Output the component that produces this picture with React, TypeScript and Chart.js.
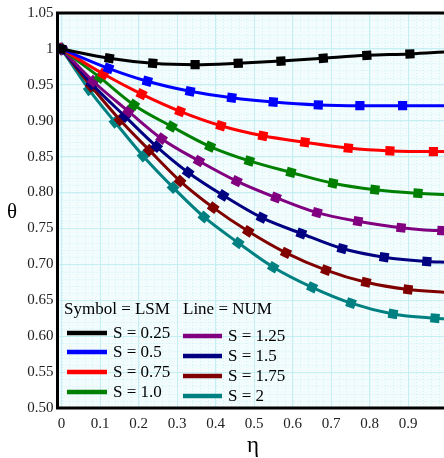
import React, { useEffect, useRef } from "react";
import { Chart, registerables } from "chart.js";
Chart.register(...registerables);

const seriesLabels = ["S = 0.25", "S = 0.5", "S = 0.75", "S = 1.0", "S = 1.25", "S = 1.5", "S = 1.75", "S = 2"];
const seriesColors = ["#000000", "#0000ff", "#ff0000", "#008000", "#800080", "#000080", "#800000", "#008080"];

const etaS025 = [0, 0.124, 0.237, 0.347, 0.459, 0.57, 0.68, 0.793, 0.905, 1.0];
const thetaS025 = [1, 0.987, 0.98, 0.978, 0.98, 0.983, 0.987, 0.991, 0.993, 0.996];
const etaS05 = [0, 0.122, 0.223, 0.334, 0.442, 0.55, 0.667, 0.775, 0.886, 1.0];
const thetaS05 = [1, 0.973, 0.955, 0.941, 0.932, 0.926, 0.922, 0.921, 0.921, 0.921];
const etaS075 = [0, 0.109, 0.208, 0.308, 0.414, 0.523, 0.632, 0.745, 0.853, 0.966, 1.0];
const thetaS075 = [1, 0.965, 0.937, 0.913, 0.893, 0.879, 0.87, 0.862, 0.858, 0.857, 0.857];
const etaS10 = [0, 0.1, 0.188, 0.286, 0.386, 0.488, 0.596, 0.705, 0.814, 0.926, 1.0];
const thetaS10 = [1, 0.96, 0.922, 0.892, 0.864, 0.844, 0.828, 0.813, 0.804, 0.799, 0.797];
const etaS125 = [0, 0.082, 0.174, 0.26, 0.357, 0.455, 0.557, 0.664, 0.77, 0.882, 0.988, 1.0];
const thetaS125 = [1, 0.955, 0.913, 0.875, 0.844, 0.816, 0.793, 0.772, 0.76, 0.751, 0.747, 0.747];
const etaS15 = [0, 0.079, 0.165, 0.247, 0.329, 0.42, 0.52, 0.623, 0.729, 0.838, 0.949, 1.0];
const thetaS15 = [1, 0.951, 0.906, 0.864, 0.828, 0.796, 0.765, 0.743, 0.722, 0.71, 0.704, 0.703];
const etaS175 = [0, 0.077, 0.152, 0.228, 0.308, 0.394, 0.485, 0.583, 0.687, 0.791, 0.9, 1.0];
const thetaS175 = [1, 0.948, 0.901, 0.859, 0.816, 0.779, 0.746, 0.716, 0.692, 0.675, 0.665, 0.661];
const etaS20 = [0, 0.072, 0.139, 0.212, 0.29, 0.37, 0.459, 0.55, 0.651, 0.752, 0.861, 0.97, 1.0];
const thetaS20 = [1, 0.943, 0.898, 0.851, 0.807, 0.766, 0.73, 0.696, 0.668, 0.646, 0.631, 0.625, 0.624];

const seriesEta = [etaS025, etaS05, etaS075, etaS10, etaS125, etaS15, etaS175, etaS20];
const seriesTheta = [thetaS025, thetaS05, thetaS075, thetaS10, thetaS125, thetaS15, thetaS175, thetaS20];

const xTickValues = [0, 0.1, 0.2, 0.3, 0.4, 0.5, 0.6, 0.7, 0.8, 0.9];
const xTickLabels = ["0", "0.1", "0.2", "0.3", "0.4", "0.5", "0.6", "0.7", "0.8", "0.9"];
const yTickValues = [0.5, 0.55, 0.6, 0.65, 0.7, 0.75, 0.8, 0.85, 0.9, 0.95, 1.0, 1.05];
const yTickLabels = ["0.50", "0.55", "0.60", "0.65", "0.70", "0.75", "0.80", "0.85", "0.90", "0.95", "1", "1.05"];

const legendTitleLeft = "Symbol = LSM";
const legendTitleRight = "Line = NUM";
const xTitle = "η";
const yTitle = "θ";

const SERIF = '"Liberation Serif", "Times New Roman", serif';

const decorPlugin = {
  id: "decor",
  beforeDraw(chart: any) {
    const { ctx, chartArea: a, scales } = chart;
    ctx.save();
    ctx.fillStyle = "#f2fcfd";
    ctx.fillRect(a.left, a.top, a.right - a.left, a.bottom - a.top);
    ctx.strokeStyle = "rgba(170,230,236,0.45)";
    ctx.lineWidth = 1;
    ctx.setLineDash([1, 2]);
    for (let k = 0; k <= 50; k++) {
      const v = k * 0.02;
      const px = Math.round(scales.x.getPixelForValue(v)) + 0.5;
      ctx.beginPath();
      ctx.moveTo(px, a.top);
      ctx.lineTo(px, a.bottom);
      ctx.stroke();
    }
    for (let k = 0; k <= 55; k++) {
      const v = 0.5 + k * 0.01;
      const py = Math.round(scales.y.getPixelForValue(v)) + 0.5;
      ctx.beginPath();
      ctx.moveTo(a.left, py);
      ctx.lineTo(a.right, py);
      ctx.stroke();
    }
    ctx.restore();
  },
  afterDraw(chart: any) {
    const { ctx, chartArea: a } = chart;
    ctx.save();
    // frame
    ctx.strokeStyle = "#000";
    ctx.lineWidth = 3;
    ctx.beginPath();
    ctx.moveTo(a.right + 2, a.top);
    ctx.lineTo(a.left, a.top);
    ctx.lineTo(a.left, a.bottom);
    ctx.lineTo(a.right + 2, a.bottom);
    ctx.stroke();

    // legend
    const L = a.left;
    const B = a.bottom;
    ctx.font = `17px ${SERIF}`;
    ctx.fillStyle = "#000";
    ctx.textBaseline = "middle";
    ctx.textAlign = "left";
    ctx.fillText(legendTitleLeft, L + 6.5, B - 98);
    ctx.fillText(legendTitleRight, L + 125.5, B - 98);
    const col1Y = [B - 75, B - 56, B - 36, B - 16];
    const col2Y = [B - 72, B - 52, B - 32, B - 12];
    ctx.lineWidth = 4.5;
    for (let i = 0; i < 8; i++) {
      const left = i < 4;
      const y = left ? col1Y[i] : col2Y[i - 4];
      const x0 = left ? L + 9.5 : L + 125.5;
      const x1 = left ? L + 49.5 : L + 164.5;
      const tx = left ? L + 55.5 : L + 170.5;
      ctx.strokeStyle = seriesColors[i];
      ctx.beginPath();
      ctx.moveTo(x0, y);
      ctx.lineTo(x1, y);
      ctx.stroke();
      ctx.fillStyle = "#000";
      ctx.fillText(seriesLabels[i], tx, y + 1);
    }

    // axis titles
    ctx.textAlign = "center";
    ctx.font = `21px ${SERIF}`;
    ctx.fillText(yTitle, 12, 212);
    ctx.font = `23px ${SERIF}`;
    ctx.fillText(xTitle, 253, 446);
    ctx.restore();
  },
};

export default function App() {
  const ref = useRef<HTMLCanvasElement | null>(null);
  useEffect(() => {
    if (!ref.current) return;
    const datasets = seriesEta.map((xs, s) => ({
      label: seriesLabels[s],
      data: xs.map((x, i) => ({ x, y: seriesTheta[s][i] })),
      borderColor: seriesColors[s],
      backgroundColor: seriesColors[s],
      borderWidth: 3,
      cubicInterpolationMode: "monotone" as const,
      pointStyle: "rect" as const,
      pointRadius: (ctx: any) => (ctx.dataIndex === xs.length - 1 ? 0 : 6.5),
      pointBorderWidth: 0,
      pointRotation: (ctx: any) => {
        const d = ctx.dataset.data;
        const i = ctx.dataIndex;
        const sx = ctx.chart.scales.x;
        const sy = ctx.chart.scales.y;
        if (!sx || !sy || !d[i]) return 0;
        const p = d[Math.max(0, i - 1)];
        const n = d[Math.min(d.length - 1, i + 1)];
        const dx = sx.getPixelForValue(n.x) - sx.getPixelForValue(p.x);
        const dy = sy.getPixelForValue(n.y) - sy.getPixelForValue(p.y);
        return (Math.atan2(dy, dx) * 180) / Math.PI;
      },
    }));
    const chart = new Chart(ref.current, {
      type: "line",
      data: { datasets },
      plugins: [decorPlugin],
      options: {
        responsive: false,
        animation: false,
        events: [],
        layout: { padding: { left: 0, top: 12, right: 15.5, bottom: 0 } },
        plugins: { legend: { display: false }, tooltip: { enabled: false } },
        scales: {
          x: {
            type: "linear",
            min: -0.0104,
            max: 1.0,
            afterBuildTicks: (scale: any) => {
              scale.ticks = xTickValues.map((v) => ({ value: v }));
            },
            afterFit: (scale: any) => {
              scale.height = 50;
            },
            ticks: {
              callback: (_v: any, i: number) => xTickLabels[i],
              font: { family: SERIF, size: 15 },
              color: "#222",
              padding: 7,
              maxRotation: 0,
              autoSkip: false,
            },
            grid: { color: "#c6eff3", lineWidth: 1, drawTicks: false },
            border: { display: false },
          },
          y: {
            type: "linear",
            min: 0.5,
            max: 1.05,
            afterBuildTicks: (scale: any) => {
              scale.ticks = yTickValues.map((v) => ({ value: v }));
            },
            afterFit: (scale: any) => {
              scale.width = 57.5;
            },
            ticks: {
              callback: (_v: any, i: number) => yTickLabels[i],
              font: { family: SERIF, size: 15 },
              color: "#222",
              padding: 4,
              autoSkip: false,
            },
            grid: { color: "#c6eff3", lineWidth: 1, drawTicks: false },
            border: { display: false },
          },
        },
      },
    });
    return () => chart.destroy();
  }, []);
  return (
    <div
      style={{
        position: "fixed",
        left: 0,
        top: 0,
        width: 444,
        height: 458,
        overflow: "hidden",
        background: "#fff",
      }}
    >
      <canvas ref={ref} width={462} height={458} style={{ display: "block" }} />
    </div>
  );
}
